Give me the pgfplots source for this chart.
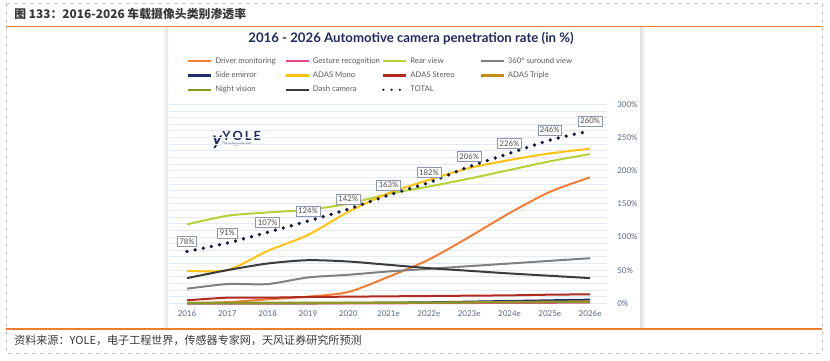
\documentclass[border=0pt]{standalone}
\usepackage{pgfplots}
\usepackage{pgfplotstable}
\pgfplotsset{compat=1.18}
\usepackage{fontspec}
\setmainfont{Lato}
\newfontfamily\cjk{Noto Sans CJK SC}
\definecolor{orangeline}{HTML}{ED7D31}
\definecolor{dmon}{HTML}{F47C34}
\definecolor{gest}{HTML}{E8478B}
\definecolor{rear}{HTML}{B4D336}
\definecolor{surr}{HTML}{808080}
\definecolor{side}{HTML}{1F2C6E}
\definecolor{mono}{HTML}{FFC20E}
\definecolor{stereo}{HTML}{B2291E}
\definecolor{triple}{HTML}{C58B16}
\definecolor{night}{HTML}{86982A}
\definecolor{dashc}{HTML}{3B3B3B}
\definecolor{total}{HTML}{141A3C}
\definecolor{navy}{HTML}{1E2A5E}
\definecolor{ticktext}{HTML}{5B6785}
\definecolor{legtext}{HTML}{5A5A5A}
\definecolor{gridc}{HTML}{E2EBF7}
\definecolor{boxc}{HTML}{8C97B0}

\pgfplotstableread{
x dm ge rv sv se am as at nv dc tot
0 0.5 0   119 22 0   49  4.5 0   0.8 38 78
1 1.8 0   132 29 0   50  8.5 0   0.8 50 91
2 6   0   137 29 0   79  8.5 0   1.0 60 107
3 10  0   141 39 0   103 9.5 0   1.0 65 124
4 17  0   150 43 0.5 138 10  0.3 1.0 63 142
5 40  0   165 48 1   166 10.5 0.6 1.0 58 163
6 66  0.2 176 52 1.5 186 11  1   1.2 53 182
7 100 0.4 188 56 2.5 204 11.5 1.5 1.2 49 206
8 136 0.6 201 60 3.5 216 12  2   1.4 45 226
9 168 0.8 214 64 4.5 226 13  2.5 1.6 41.5 246
10 190 1  225 68 5.5 233 13.5 3  1.8 38 260
}\data

\begin{document}
\begin{tikzpicture}[x=0.75pt,y=0.75pt]
\path[use as bounding box] (0,0) rectangle (830,-360);
% outer dashed frame
\draw[gray!45, dashed, line width=0.6pt] (6,-3) rectangle (822,-353);
% card shadows
\shade[left color=white, right color=black!12] (162,-27) rectangle (168,-329);
\shade[left color=black!12, right color=white] (640,-27) rectangle (646,-329);
% orange rules
\draw[orangeline, line width=1.2pt] (6,-26.5) -- (822,-26.5);
\draw[orangeline, line width=1.2pt] (6,-329) -- (822,-329);
% headings
\node[anchor=west, inner sep=0pt, text=black!78] at (14,-13.5) {\cjk\bfseries\fontsize{8.9pt}{11pt}\selectfont 图 133：2016-2026 车载摄像头类别渗透率};
\node[anchor=west, inner sep=0pt, text=black!78] at (14,-340) {\cjk\fontsize{8.3pt}{10pt}\selectfont 资料来源：YOLE，电子工程世界，传感器专家网，天风证券研究所预测};
% chart title
\node[inner sep=0pt, text=navy] at (411,-38) {\bfseries\fontsize{9.9pt}{11pt}\selectfont 2016 - 2026 Automotive camera penetration rate (in \%)};
% logo
\node[anchor=west, inner sep=0pt, text=navy] at (222,-136) {\bfseries\fontsize{9.5pt}{10pt}\selectfont Y\,O\,L\,E};
\node[anchor=west, inner sep=0pt, text=navy!80] at (222,-144.5) {\itshape\fontsize{3.4pt}{4pt}\selectfont Développement};
\node[anchor=east, inner sep=0pt, text=navy] at (222,-142) {\bfseries\itshape\fontsize{14pt}{14pt}\selectfont y};

\begin{axis}[
  at={(126.375pt,-227.475pt)}, anchor=south west,
  scale only axis, width=328.9pt, height=149.25pt,
  xmin=-0.46, xmax=10.42, ymin=0, ymax=300,
  clip=false,
  axis line style={draw=none},
  tick style={draw=none},
  major tick length=0pt, minor tick length=0pt,
  xtick={0,...,10},
  xticklabels={2016,2017,2018,2019,2020,2021e,2022e,2023e,2024e,2025e,2026e},
  xticklabel style={font=\fontsize{6pt}{7pt}\selectfont, text=ticktext, inner sep=0pt, yshift=-5.5pt, anchor=north},
  ytick={0,50,...,300},
  minor ytick={0,10,...,300},
  yminorgrids=true,
  minor grid style={gridc, line width=0.6pt},
  yticklabel pos=right,
  yticklabel={\pgfmathprintnumber{\tick}\%},
  yticklabel style={font=\fontsize{6pt}{7pt}\selectfont, text=ticktext, anchor=west, inner sep=0pt, xshift=7.5pt},
  /pgf/number format/assume math mode=true,
  legend columns=4,
  legend cell align=left,
  legend style={draw=none, fill=none, at={(0.0326,1.2515)}, anchor=north west,
    font=\fontsize{5.8pt}{6.5pt}\selectfont, text=legtext,
    nodes={inner sep=0pt, text height=4.5pt, text depth=1.2pt},
    row sep=5.1pt,
    /tikz/every odd column/.append style={column sep=2pt},
    /tikz/every even column/.append style={column sep=0pt}},
  legend image code/.code={\draw[#1, line width=1.9pt] (0pt,0pt) -- (17.25pt,0pt);},
  every axis plot/.append style={line width=1.5pt, smooth, tension=0.45},
]
\addplot[dmon] table[x=x,y=dm]{\data};
\addlegendentry{\makebox[52pt][l]{Driver monitoring}}
\addplot[gest] table[x=x,y=ge]{\data};
\addlegendentry{\makebox[52pt][l]{Gesture recognition}}
\addplot[rear] table[x=x,y=rv]{\data};
\addlegendentry{\makebox[52pt][l]{Rear view}}
\addplot[surr] table[x=x,y=sv]{\data};
\addlegendentry{\makebox[52pt][l]{360° suround view}}
\addplot[side] table[x=x,y=se]{\data};
\addlegendentry{\makebox[52pt][l]{Side emirror}}
\addplot[mono] table[x=x,y=am]{\data};
\addlegendentry{\makebox[52pt][l]{ADAS Mono}}
\addplot[stereo] table[x=x,y=as]{\data};
\addlegendentry{\makebox[52pt][l]{ADAS Stereo}}
\addplot[triple] table[x=x,y=at]{\data};
\addlegendentry{\makebox[52pt][l]{ADAS Triple}}
\addplot[night] table[x=x,y=nv]{\data};
\addlegendentry{\makebox[52pt][l]{Night vision}}
\addplot[dashc] table[x=x,y=dc]{\data};
\addlegendentry{\makebox[52pt][l]{Dash camera}}
\addplot[total, line width=2.8pt, line cap=round, dash pattern=on 0pt off 6.2pt,
  nodes near coords={\pgfmathprintnumber{\pgfplotspointmeta}\%},
  point meta=explicit,
  every node near coord/.append style={draw=boxc, fill=white, line width=0.5pt, text=black!70,
    font=\fontsize{5.8pt}{6.5pt}\selectfont, inner sep=1.6pt, anchor=south, yshift=3.5pt, solid}]
  table[x=x,y=tot,meta=tot]{\data};
\addlegendentry{\makebox[52pt][l]{TOTAL}}
\end{axis}
\end{tikzpicture}
\end{document}
